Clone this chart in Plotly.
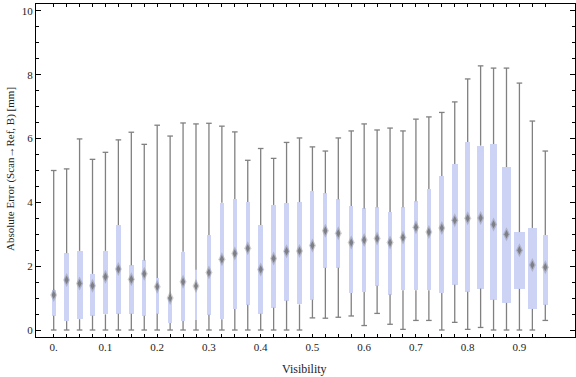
import plotly.graph_objects as go

visibility = [0.0, 0.025, 0.05, 0.075, 0.1, 0.125, 0.15, 0.175, 0.2, 0.225,
              0.25, 0.275, 0.3, 0.325, 0.35, 0.375, 0.4, 0.425, 0.45, 0.475,
              0.5, 0.525, 0.55, 0.575, 0.6, 0.625, 0.65, 0.675, 0.7, 0.725,
              0.75, 0.775, 0.8, 0.825, 0.85, 0.875, 0.9, 0.925, 0.95]

whisker_low = [0.0, 0.0, 0.0, 0.0, 0.0, 0.0, 0.0, 0.0, 0.0, 0.0,
               0.0, 0.0, 0.0, 0.0, 0.0, 0.0, 0.0, 0.0, 0.0, 0.0,
               0.38, 0.37, 0.40, 0.44, 0.14, 0.52, 0.18, 0.02, 0.30, 0.30,
               0.0, 0.24, 0.02, 0.08, 0.0, 0.0, 0.0, 0.0, 0.30]

q1 = [0.45, 0.28, 0.34, 0.45, 0.49, 0.51, 0.51, 0.45, 0.51, 0.22,
      0.28, 0.31, 0.48, 0.34, 0.66, 0.79, 0.51, 0.70, 0.92, 0.80,
      0.95, 1.95, 1.95, 1.16, 1.19, 1.39, 1.11, 1.25, 1.25, 1.25,
      1.16, 1.42, 1.20, 1.30, 0.95, 0.85, 1.29, 0.66, 0.79]

median = [1.10, 1.57, 1.46, 1.39, 1.67, 1.91, 1.59, 1.76, 1.36, 1.00,
          1.51, 1.38, 1.80, 2.22, 2.40, 2.56, 1.90, 2.24, 2.47, 2.48,
          2.65, 3.11, 3.03, 2.74, 2.82, 2.87, 2.74, 2.90, 3.22, 3.07,
          3.20, 3.44, 3.50, 3.51, 3.31, 3.00, 2.50, 2.04, 1.97]

q3 = [1.25, 2.41, 2.48, 1.76, 2.48, 3.29, 2.03, 2.18, 1.63, 1.04,
      2.45, 1.90, 2.98, 3.99, 4.11, 4.01, 3.29, 3.92, 3.98, 4.01,
      4.36, 4.29, 4.10, 3.89, 3.81, 3.85, 3.70, 3.85, 4.04, 4.42,
      4.83, 5.20, 5.89, 5.78, 5.83, 5.11, 3.07, 3.20, 2.98]

whisker_high = [5.00, 5.05, 5.99, 5.35, 5.57, 5.96, 6.20, 5.82, 6.42, 6.08,
                6.49, 6.46, 6.48, 6.39, 6.21, 5.32, 5.69, 5.38, 5.88, 6.02,
                5.74, 5.61, 6.02, 6.24, 6.46, 6.27, 6.33, 6.24, 6.61, 6.68,
                6.82, 7.15, 7.87, 8.28, 8.21, 8.21, 7.74, 6.55, 5.61]

# box widths (x data units)
box_width = [0.0070, 0.0102, 0.0116, 0.0097, 0.0097, 0.0097, 0.0085, 0.0080, 0.0058, 0.0077,
             0.0077, 0.0033, 0.0077, 0.0072, 0.0072, 0.0083, 0.0097, 0.0097, 0.0091, 0.0097,
             0.0077, 0.0077, 0.0077, 0.0083, 0.0083, 0.0077, 0.0077, 0.0077, 0.0091, 0.0091,
             0.0091, 0.0110, 0.0097, 0.0129, 0.0135, 0.0174, 0.0213, 0.0174, 0.0102]

x_tick_labels = ["0.", "", "", "", "0.1", "", "", "", "0.2", "", "", "", "0.3", "", "", "",
                 "0.4", "", "", "", "0.5", "", "", "", "0.6", "", "", "", "0.7", "", "", "",
                 "0.8", "", "", "", "0.9", "", ""]
y_tick_vals = [0, 2, 4, 6, 8, 10]
y_tick_labels = ["0", "2", "4", "6", "8", "10"]
y_minor_vals = [0, 0.5, 1, 1.5, 2, 2.5, 3, 3.5, 4, 4.5, 5, 5.5, 6, 6.5, 7, 7.5, 8, 8.5, 9, 9.5, 10]

WHISKER = "rgb(128,128,128)"
BOX = "rgb(204,211,245)"
FONT = "Liberation Serif"

# whisker segments (outside the boxes)
wx, wy = [], []
for x, lo, a, b, hi in zip(visibility, whisker_low, q1, q3, whisker_high):
    wx += [x, x, None, x, x, None]
    wy += [lo, a, None, b, hi, None]

fig = go.Figure()
fig.add_trace(go.Scatter(x=wx, y=wy, mode="lines",
                         line=dict(color=WHISKER, width=1.3),
                         hoverinfo="skip", showlegend=False))
fig.add_trace(go.Scatter(x=visibility + visibility, y=whisker_low + whisker_high,
                         mode="markers",
                         marker=dict(symbol="line-ew", size=4,
                                     line=dict(color=WHISKER, width=1.3)),
                         hoverinfo="skip", showlegend=False))
fig.add_trace(go.Bar(x=visibility, base=q1, y=[b - a for a, b in zip(q1, q3)],
                     width=box_width, marker=dict(color=BOX, line=dict(width=0)),
                     hoverinfo="skip", showlegend=False))
# soft halo + core to mimic blurred median diamonds
fig.add_trace(go.Scatter(x=visibility, y=median, mode="markers",
                         marker=dict(symbol="diamond-tall", size=10,
                                     color="rgba(120,120,120,0.35)",
                                     line=dict(width=0)),
                         hoverinfo="skip", showlegend=False))
fig.add_trace(go.Scatter(x=visibility, y=median, mode="markers",
                         marker=dict(symbol="diamond-tall", size=6,
                                     color="rgba(105,105,105,0.7)",
                                     line=dict(width=0)),
                         hoverinfo="skip", showlegend=False))

axis_common = dict(showline=True, linecolor="black", linewidth=1, mirror="allticks",
                   ticks="inside", tickcolor="black", tickwidth=1,
                   showgrid=False, zeroline=False,
                   tickfont=dict(family=FONT, size=11, color="#222"))

fig.update_layout(
    width=576, height=377,
    margin=dict(l=36, r=1, t=4, b=40),
    paper_bgcolor="white", plot_bgcolor="white",
    bargap=0,
    xaxis=dict(range=[-0.0342, 1.0074], tickmode="array", tickvals=visibility,
               ticktext=x_tick_labels, ticklen=3, **axis_common),
    yaxis=dict(range=[-0.219, 10.219], tickmode="array", tickvals=y_tick_vals,
               ticktext=y_tick_labels, ticklen=5,
               minor=dict(tickmode="array", tickvals=y_minor_vals, ticks="inside",
                          ticklen=3, tickcolor="black", showgrid=False),
               **axis_common),
    annotations=[
        dict(text="Visibility", xref="paper", yref="paper",
             x=(304.5 - 36) / 539, y=(337 - 369) / 333,
             xanchor="center", yanchor="middle", showarrow=False,
             font=dict(family=FONT, size=12, color="#222")),
        dict(text="Absolute Error (Scan\u2192Ref, B) [mm]", xref="paper", yref="paper",
             x=(10 - 36) / 539, y=(337 - 169) / 333, textangle=-90,
             xanchor="center", yanchor="middle", showarrow=False,
             font=dict(family=FONT, size=11, color="#222")),
    ],
)

fig.write_html("out.html", config={"displayModeBar": False},
               post_script="document.body.style.margin='0px';")
